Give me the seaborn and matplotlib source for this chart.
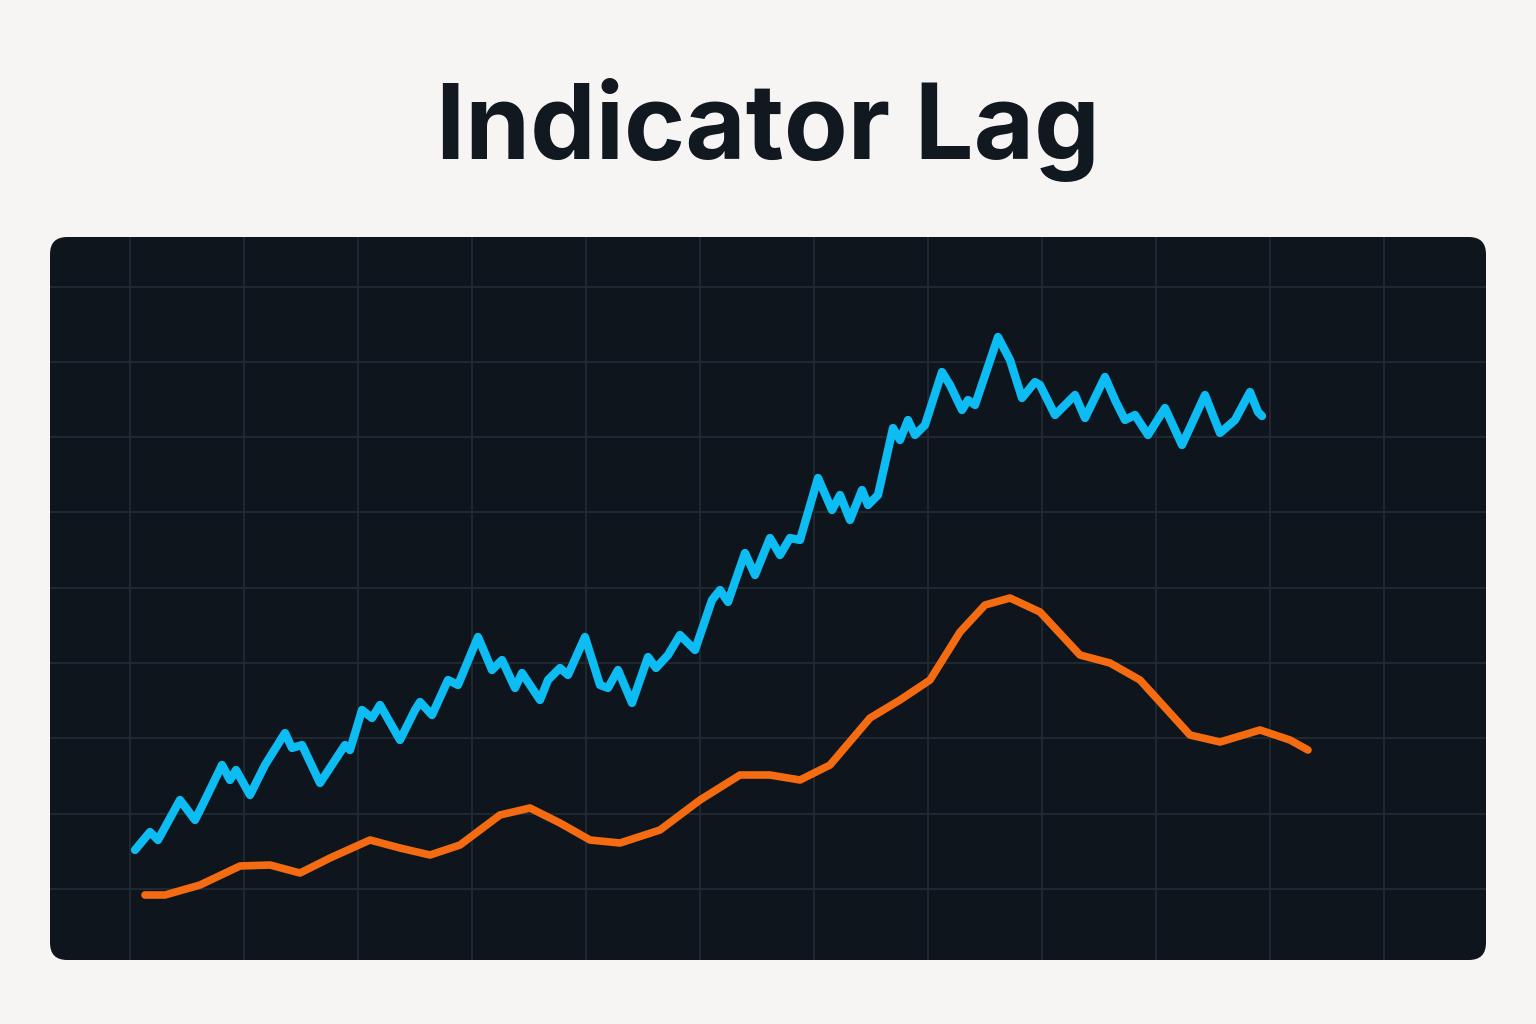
import matplotlib
matplotlib.use('Agg')
import matplotlib.pyplot as plt
from matplotlib.patches import FancyBboxPatch
import seaborn as sns
import pandas as pd

# Values (horizontal position, vertical position on the chart grid)
price_x = [135, 150, 158, 180, 195, 205, 222, 230, 236, 250, 265, 285, 292, 302, 320, 345, 350, 362,
           372, 380, 400, 415, 420, 432, 448, 458, 478, 492, 502, 515, 522, 540, 548, 560, 568, 585,
           600, 608, 618, 632, 648, 656, 668, 680, 695, 712, 720, 728, 745, 755, 770, 780, 790, 800,
           818, 832, 840, 850, 862, 868, 878, 893, 900, 908, 915, 925, 942, 950, 962, 968, 975, 998,
           1010, 1022, 1035, 1040, 1055, 1065, 1075, 1085, 1105, 1115, 1125, 1135, 1148, 1165, 1182,
           1205, 1220, 1235, 1250, 1258, 1262]
price_y = [850, 832, 840, 800, 820, 800, 765, 780, 770, 795, 765, 733, 748, 745, 783, 745, 750, 710,
           718, 705, 740, 710, 702, 715, 680, 685, 637, 670, 660, 688, 673, 700, 680, 668, 675, 637,
           685, 688, 670, 703, 657, 668, 655, 635, 650, 600, 590, 602, 553, 575, 538, 555, 538, 540,
           478, 510, 495, 520, 490, 505, 495, 428, 440, 420, 435, 425, 372, 385, 410, 400, 405, 337,
           360, 398, 382, 385, 415, 405, 395, 418, 377, 400, 420, 415, 435, 408, 445, 395, 433, 420,
           392, 412, 416]

ind_x = [145, 165, 200, 240, 270, 300, 330, 370, 400, 430, 460, 500, 530, 560, 590, 620, 660, 700,
         740, 770, 800, 830, 870, 900, 930, 960, 985, 1010, 1040, 1080, 1110, 1140, 1190, 1220, 1260,
         1290, 1308]
ind_y = [895, 895, 885, 866, 865, 873, 858, 840, 848, 855, 845, 815, 808, 823, 840, 843, 830, 800,
         775, 775, 780, 765, 718, 700, 680, 632, 605, 598, 612, 655, 663, 680, 735, 742, 730, 740, 750]

grid_x = [130, 244, 358, 472, 586, 700, 814, 928, 1042, 1156, 1270, 1384]
grid_y = [287, 362, 437, 512, 588, 663, 738, 814, 889]

fig = plt.figure(figsize=(15.36, 10.24), dpi=100, facecolor='#f6f5f3')

ax = fig.add_axes([50 / 1536, 64 / 1024, 1436 / 1536, 723 / 1024])
ax.set_facecolor('none')
ax.set_xlim(50, 1486)
ax.set_ylim(960, 237)

# rounded dark panel behind the plot
panel = FancyBboxPatch((0, 0), 1, 1, boxstyle='round,pad=0,rounding_size=0.012',
                       transform=ax.transAxes, facecolor='#0e151c', edgecolor='none',
                       zorder=0, clip_on=False, mutation_aspect=1436 / 723)
ax.add_patch(panel)

for gx in grid_x:
    ax.axvline(gx, color='#212a33', lw=1.3, zorder=1)
for gy in grid_y:
    ax.axhline(gy, color='#212a33', lw=1.3, zorder=1)

price = pd.DataFrame({'x': price_x, 'y': price_y})
ind = pd.DataFrame({'x': ind_x, 'y': ind_y})
sns.lineplot(data=ind, x='x', y='y', ax=ax, color='#f46b12', lw=5.5, sort=False,
             solid_capstyle='round', solid_joinstyle='round', zorder=3)
sns.lineplot(data=price, x='x', y='y', ax=ax, color='#0cbcf2', lw=6, sort=False,
             solid_capstyle='round', solid_joinstyle='round', zorder=4)
ax.set_xlabel('')
ax.set_ylabel('')
ax.set_xticks([])
ax.set_yticks([])
for s in ax.spines.values():
    s.set_visible(False)

fig.text(0.5, 1 - 130 / 1024, 'Indicator Lag', ha='center', va='center',
         fontsize=75, fontweight='bold', color='#111820', family=['Inter', 'DejaVu Sans'])

fig.savefig('out.png', dpi=100, facecolor=fig.get_facecolor())
